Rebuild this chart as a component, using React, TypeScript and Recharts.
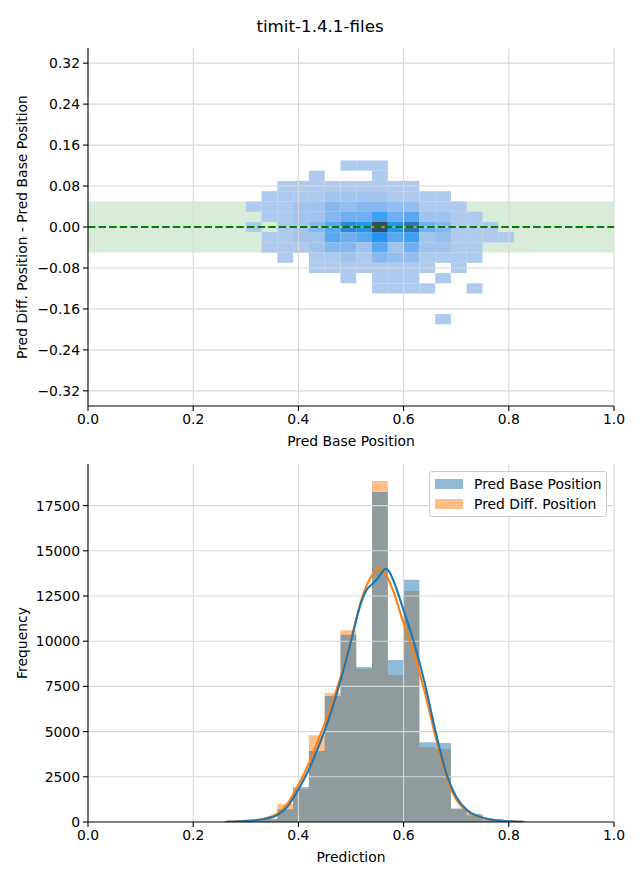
import React from 'react';
import { ComposedChart, XAxis, YAxis, ReferenceArea, ReferenceLine, Area, Line } from 'recharts';

const chartTitle = 'timit-1.4.1-files';
const topXLabel = 'Pred Base Position';
const topYLabel = 'Pred Diff. Position - Pred Base Position';
const bottomXLabel = 'Prediction';
const bottomYLabel = 'Frequency';
const seriesNames = ['Pred Base Position', 'Pred Diff. Position'];

const xTicks = [0, 0.2, 0.4, 0.6, 0.8, 1.0];
const topYTicks = [0.32, 0.24, 0.16, 0.08, 0, -0.08, -0.16, -0.24, -0.32];
const freqTicks = [0, 2500, 5000, 7500, 10000, 12500, 15000, 17500];

// 2D histogram (heatmap): column edges along x, row centers along y
const heatXEdges = [0.30, 0.33, 0.36, 0.39, 0.42, 0.45, 0.48, 0.51, 0.54, 0.57, 0.60, 0.63, 0.66, 0.69, 0.72, 0.75, 0.78, 0.81];
const heatYCenters = [0.12, 0.10, 0.08, 0.06, 0.04, 0.02, 0.0, -0.02, -0.04, -0.06, -0.08, -0.10, -0.12, -0.14, -0.16, -0.18];
const heatYBinWidth = 0.02;
const heatCounts = [
  [0, 0, 0, 0, 0, 0, 1, 1, 1, 0, 0, 0, 0, 0, 0, 0, 0],
  [0, 0, 0, 0, 1, 0, 0, 0, 1, 0, 0, 0, 0, 0, 0, 0, 0],
  [0, 0, 1, 1, 1, 1, 1, 1, 1, 1, 1, 0, 0, 0, 0, 0, 0],
  [0, 1, 1, 1, 1, 2, 2, 2, 2, 1, 1, 1, 1, 0, 0, 0, 0],
  [1, 1, 1, 2, 2, 4, 3, 4, 4, 3, 3, 1, 1, 1, 0, 0, 0],
  [0, 1, 1, 2, 2, 4, 5, 5, 7, 5, 6, 2, 2, 1, 1, 0, 0],
  [1, 0, 1, 2, 4, 6, 9, 8, 11, 8, 10, 5, 4, 1, 1, 1, 0],
  [0, 1, 1, 2, 2, 6, 5, 6, 8, 6, 7, 2, 3, 1, 1, 1, 1],
  [0, 1, 1, 1, 2, 4, 4, 2, 6, 2, 5, 2, 2, 1, 1, 0, 0],
  [0, 0, 1, 0, 1, 1, 2, 1, 4, 3, 3, 1, 1, 1, 1, 0, 0],
  [0, 0, 0, 0, 1, 1, 1, 1, 1, 1, 1, 1, 0, 1, 0, 0, 0],
  [0, 0, 0, 0, 0, 0, 1, 0, 1, 1, 1, 0, 1, 0, 0, 0, 0],
  [0, 0, 0, 0, 0, 0, 0, 0, 1, 1, 1, 1, 0, 0, 1, 0, 0],
  [0, 0, 0, 0, 0, 0, 0, 0, 0, 0, 0, 0, 0, 0, 0, 0, 0],
  [0, 0, 0, 0, 0, 0, 0, 0, 0, 0, 0, 0, 0, 0, 0, 0, 0],
  [0, 0, 0, 0, 0, 0, 0, 0, 0, 0, 0, 0, 1, 0, 0, 0, 0],
];

const toleranceBand = [-0.05, 0.05];

// 1D histograms
const histEdges = [0.27, 0.30, 0.33, 0.36, 0.39, 0.42, 0.45, 0.48, 0.51, 0.54, 0.57, 0.60, 0.63, 0.66, 0.69, 0.72, 0.75, 0.78, 0.81];
const histBase = [20, 50, 150, 700, 1930, 3930, 6970, 10350, 8570, 18250, 8960, 13400, 4410, 4370, 740, 440, 100, 40];
const histDiff = [30, 70, 200, 1000, 1830, 4800, 7130, 10600, 8460, 18860, 8130, 12780, 4150, 4040, 700, 330, 90, 30];

// KDE curves
const kdeX = [0.26, 0.28, 0.30, 0.32, 0.34, 0.36, 0.38, 0.40, 0.42, 0.44, 0.46, 0.48, 0.50, 0.52, 0.53, 0.54, 0.55, 0.56, 0.565, 0.57, 0.58, 0.60, 0.62, 0.64, 0.66, 0.68, 0.70, 0.72, 0.74, 0.76, 0.78, 0.80, 0.82, 0.83];
const kdeBase = [0, 20, 50, 100, 190, 380, 880, 1800, 2900, 4300, 5900, 7800, 10000, 12200, 12850, 13150, 13450, 13850, 14000, 13950, 13400, 11700, 9900, 7700, 5100, 2800, 1400, 680, 340, 170, 90, 40, 10, 0];
const kdeDiff = [0, 25, 60, 110, 220, 460, 1050, 2050, 3250, 4700, 6250, 8000, 10100, 12300, 13100, 13650, 14000, 13950, 13750, 13500, 12800, 11000, 9300, 7200, 4800, 2600, 1250, 600, 300, 150, 80, 35, 10, 0];

const FONT = 'DejaVu Sans';
const TICK_FS = 13.9;
const GRID = '#d8d8d8';
const C0 = '#1f77b4';
const C1 = '#ff7f0e';
const cmap = ['#aecbef', '#a1c4ef', '#93bef0', '#85b8f0', '#70b0f2', '#58a8f3', '#40a0f3', '#2196f0', '#2b88d2', '#3475b0', '#3c4a5e'];

const heatCells: { x1: number; x2: number; y1: number; y2: number; c: number }[] = [];
heatCounts.forEach((row, r) => {
  row.forEach((c, i) => {
    if (c > 0) {
      heatCells.push({
        x1: heatXEdges[i],
        x2: heatXEdges[i + 1],
        y1: heatYCenters[r] - heatYBinWidth / 2,
        y2: heatYCenters[r] + heatYBinWidth / 2,
        c,
      });
    }
  });
});

const histData = histEdges.map((e, i) => ({
  x: e,
  base: histBase[Math.min(i, histBase.length - 1)],
  diff: histDiff[Math.min(i, histDiff.length - 1)],
}));
const kdeBaseData = kdeX.map((x, i) => ({ x, y: kdeBase[i] }));
const kdeDiffData = kdeX.map((x, i) => ({ x, y: kdeDiff[i] }));

const tickStyle = { fontSize: TICK_FS, fill: '#000', fontFamily: FONT };
const axisLine = { stroke: '#000', strokeWidth: 1.1 };
const tickLine = { stroke: '#000', strokeWidth: 1.1 };
const fmtX = (v: number) => v.toFixed(1);
const fmtTopY = (v: number) => (v < 0 ? '\u2212' + Math.abs(v).toFixed(2) : v.toFixed(2));

const LegendBox = () => (
  <div
    style={{
      position: 'absolute',
      left: 429,
      top: 471,
      width: 176,
      height: 44,
      border: '1px solid #cccccc',
      borderRadius: 3,
      background: 'rgba(255,255,255,0.8)',
      fontFamily: FONT,
      fontSize: TICK_FS,
      color: '#000',
    }}
  >
    {seriesNames.map((name, i) => (
      <div key={name} style={{ position: 'absolute', left: 0, top: 2 + i * 20, height: 20, width: 176 }}>
        <div
          style={{
            position: 'absolute',
            left: 5,
            top: 5,
            width: 28,
            height: 10,
            background: i === 0 ? C0 : C1,
            opacity: 0.5,
          }}
        />
        <div style={{ position: 'absolute', left: 44, top: 0, lineHeight: '20px', whiteSpace: 'nowrap' }}>{name}</div>
      </div>
    ))}
  </div>
);

export default function App() {
  return (
    <div style={{ position: 'absolute', left: 0, top: 0, width: 640, height: 880, background: '#fff', fontFamily: FONT }}>
      <div
        style={{
          position: 'absolute',
          left: 0,
          top: 15,
          width: 640,
          textAlign: 'center',
          fontSize: 16.7,
          lineHeight: '22px',
          color: '#000',
        }}
      >
        {chartTitle}
      </div>

      <div style={{ position: 'absolute', left: 0, top: 0 }}>
        <ComposedChart width={640} height={460} data={histData} margin={{ top: 48, right: 26, bottom: 24, left: 0 }}>
          <XAxis
            dataKey="x"
            type="number"
            domain={[0, 1]}
            ticks={xTicks}
            tickFormatter={fmtX}
            allowDataOverflow
            height={30}
            tick={tickStyle}
            tickSize={5}
            tickMargin={3}
            axisLine={axisLine}
            tickLine={tickLine}
            label={{ value: topXLabel, position: 'bottom', offset: 0, style: { fontSize: TICK_FS, fill: '#000', fontFamily: FONT } }}
          />
          <YAxis
            type="number"
            domain={[-0.3496, 0.3496]}
            ticks={topYTicks}
            tickFormatter={fmtTopY}
            allowDataOverflow
            width={88}
            tick={tickStyle}
            tickSize={5}
            tickMargin={3}
            axisLine={axisLine}
            tickLine={tickLine}
            label={{
              value: topYLabel,
              angle: -90,
              position: 'insideLeft',
              offset: 22,
              style: { textAnchor: 'middle', fontSize: TICK_FS, fill: '#000', fontFamily: FONT },
            }}
          />
          <ReferenceArea y1={toleranceBand[0]} y2={toleranceBand[1]} x1={0} x2={1} fill="#008000" fillOpacity={0.15} stroke="none" />
          {heatCells.map((cell, k) => (
            <ReferenceArea
              key={'c' + k}
              x1={cell.x1}
              x2={cell.x2}
              y1={cell.y1}
              y2={cell.y2}
              fill={cmap[cell.c - 1]}
              fillOpacity={1}
              stroke="none"
            />
          ))}
          {xTicks.slice(1).map((t) => (
            <ReferenceLine key={'gx' + t} x={t} stroke={GRID} strokeWidth={1.1} />
          ))}
          {topYTicks.map((t) => (
            <ReferenceLine key={'gy' + t} y={t} stroke={GRID} strokeWidth={1.1} />
          ))}
          <ReferenceLine y={0} stroke="#008000" strokeWidth={2} strokeDasharray="7.4 3.2" />
        </ComposedChart>
      </div>

      <div style={{ position: 'absolute', left: 0, top: 440 }}>
        <ComposedChart width={640} height={440} data={histData} margin={{ top: 24, right: 26, bottom: 28, left: 0 }}>
          <XAxis
            dataKey="x"
            type="number"
            domain={[0, 1]}
            ticks={xTicks}
            tickFormatter={fmtX}
            allowDataOverflow
            height={30}
            tick={tickStyle}
            tickSize={5}
            tickMargin={3}
            axisLine={axisLine}
            tickLine={tickLine}
            label={{ value: bottomXLabel, position: 'bottom', offset: 0, style: { fontSize: TICK_FS, fill: '#000', fontFamily: FONT } }}
          />
          <YAxis
            type="number"
            domain={[0, 19800]}
            ticks={freqTicks}
            allowDataOverflow
            width={88}
            tick={tickStyle}
            tickSize={5}
            tickMargin={3}
            axisLine={axisLine}
            tickLine={tickLine}
            label={{
              value: bottomYLabel,
              angle: -90,
              position: 'insideLeft',
              offset: 22,
              style: { textAnchor: 'middle', fontSize: TICK_FS, fill: '#000', fontFamily: FONT },
            }}
          />
          <Area dataKey="diff" type="stepAfter" fill={C1} fillOpacity={0.5} stroke="none" isAnimationActive={false} dot={false} activeDot={false} />
          <Area dataKey="base" type="stepAfter" fill={C0} fillOpacity={0.5} stroke="none" isAnimationActive={false} dot={false} activeDot={false} />
          {xTicks.slice(1).map((t) => (
            <ReferenceLine key={'bgx' + t} x={t} stroke={GRID} strokeWidth={1.1} />
          ))}
          {freqTicks.slice(1).map((t) => (
            <ReferenceLine key={'bgy' + t} y={t} stroke={GRID} strokeWidth={1.1} />
          ))}
          <Line data={kdeDiffData} dataKey="y" type="monotone" stroke={C1} strokeWidth={2.1} dot={false} activeDot={false} isAnimationActive={false} />
          <Line data={kdeBaseData} dataKey="y" type="monotone" stroke={C0} strokeWidth={2.1} dot={false} activeDot={false} isAnimationActive={false} />
        </ComposedChart>
      </div>
      <LegendBox />
    </div>
  );
}
